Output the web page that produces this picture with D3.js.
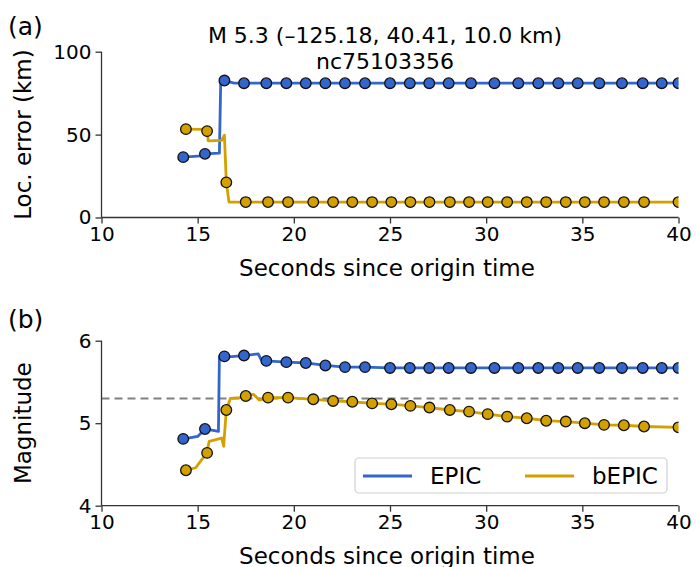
<!DOCTYPE html>
<html>
<head>
<meta charset="utf-8">
<script src="https://cdn.jsdelivr.net/npm/d3@7"></script>
<style>
  body { margin: 0; background: #fff; }
  text { font-family: "DejaVu Sans", sans-serif; fill: #000; }
</style>
</head>
<body>
<div id="chart"></div>
<script>
// times of the alert updates (s since origin)
var epicTimes  = [14.25, 15.38, 16.39, 17.41, 18.57, 19.61, 20.62, 21.64, 22.66, 23.70, 25.0, 26.03, 27.04, 28.05, 29.21, 30.43, 31.67, 32.71, 33.75, 34.76, 35.88, 37.06, 38.14, 39.13, 40.0];
var bepicTimes = [14.39, 15.49, 16.49, 17.5, 18.66, 19.70, 21.01, 22.04, 23.04, 24.07, 25.07, 26.06, 27.05, 28.11, 29.11, 30.08, 31.09, 32.11, 33.12, 34.14, 35.13, 36.13, 37.16, 38.21, 40.0];

var epicLocErr  = [36.4, 38.4, 82.6, 81, 81, 81, 81, 81, 81, 81, 81, 81, 81, 81, 81, 81, 81, 81, 81, 81, 81, 81, 81, 81, 81];
var bepicLocErr = [53.3, 52.1, 21.2, 9.3, 9.3, 9.3, 9.3, 9.3, 9.3, 9.3, 9.3, 9.3, 9.3, 9.3, 9.3, 9.3, 9.3, 9.3, 9.3, 9.3, 9.3, 9.3, 9.3, 9.3, 9.3];

var epicMag  = [4.81, 4.93, 5.81, 5.82, 5.755, 5.74, 5.73, 5.70, 5.68, 5.68, 5.67, 5.67, 5.67, 5.67, 5.67, 5.67, 5.67, 5.67, 5.67, 5.67, 5.67, 5.67, 5.67, 5.67, 5.67];
var bepicMag = [4.43, 4.64, 5.16, 5.33, 5.31, 5.31, 5.29, 5.27, 5.26, 5.24, 5.23, 5.21, 5.19, 5.16, 5.14, 5.11, 5.08, 5.06, 5.03, 5.02, 5.00, 4.98, 4.975, 4.96, 4.95];

// continuous traces (vertices, between the markers)
var epicLocLine  = [[14.25, 36.4], [15.2, 37.2], [15.38, 38.4], [16.13, 38.8], [16.2, 82.6], [16.39, 82.6], [16.9, 81], [40, 81]];
var bepicLocLine = [[14.39, 53.3], [15.25, 53.2], [15.49, 52.1], [15.55, 46.2], [16.25, 46.5], [16.39, 49.7], [16.49, 21.2], [16.63, 9.3], [40, 9.3]];
var epicMagLine  = [[14.31, 4.81], [15.0, 4.84], [15.38, 4.93], [16.08, 4.90], [16.13, 5.81], [16.42, 5.80], [17.41, 5.82], [18.15, 5.84], [18.3, 5.77], [18.57, 5.755], [19.61, 5.74], [20.62, 5.73], [21.64, 5.70], [22.66, 5.68], [23.70, 5.68], [25.0, 5.67], [40, 5.67]];
var bepicMagLine = [[14.43, 4.43], [14.9, 4.46], [15.47, 4.64], [15.6, 4.78], [16.25, 4.82], [16.35, 4.72], [16.49, 5.16], [16.7, 5.30], [17.2, 5.31], [17.5, 5.33], [17.9, 5.35], [18.2, 5.28], [18.66, 5.31], [19.70, 5.31], [21.01, 5.29], [22.04, 5.27], [23.04, 5.26], [24.07, 5.24], [25.07, 5.23], [26.06, 5.21], [27.05, 5.19], [28.11, 5.16], [29.11, 5.14], [30.08, 5.11], [31.09, 5.08], [32.11, 5.06], [33.12, 5.03], [34.14, 5.02], [35.13, 5.00], [36.13, 4.98], [37.16, 4.975], [38.21, 4.96], [40, 4.95]];

var catalogMag = 5.3;
var xTicks = [10, 15, 20, 25, 30, 35, 40];
var locTicks = [0, 50, 100];
var magTicks = [4, 5, 6];
var seriesNames = ["EPIC", "bEPIC"];

var blue = "#3366cc", gold = "#d4a000";
var W = 696, H = 567;

var svg = d3.select("#chart").append("svg")
    .attr("width", W)
    .attr("height", H);

var x = d3.scaleLinear().domain([10, 40]).range([101.5, 678.5]);

function panel(id, top, bottom, domain, ticks, ylabel, letter, letterY, lines, pts) {
  var y = d3.scaleLinear().domain(domain).range([bottom, top]);

  svg.append("clipPath").attr("id", id)
    .append("rect")
    .attr("x", x.range()[0]).attr("y", top - 20)
    .attr("width", x.range()[1] - x.range()[0]).attr("height", bottom - top + 40);

  var g = svg.append("g");

  var xAxis = svg.append("g")
      .attr("transform", "translate(0," + bottom + ")")
      .call(d3.axisBottom(x).tickValues(xTicks).tickSize(6).tickPadding(3));
  var yAxis = svg.append("g")
      .attr("transform", "translate(" + x.range()[0] + ",0)")
      .call(d3.axisLeft(y).tickValues(ticks).tickFormat(d3.format("d")).tickSize(6).tickPadding(4));
  [xAxis, yAxis].forEach(function(a) {
    a.select(".domain").attr("stroke", "#333").attr("stroke-width", 1.3);
    a.selectAll(".tick line").attr("stroke", "#333").attr("stroke-width", 1.3);
    a.selectAll(".tick text").style("font-size", "20px").attr("fill", "#000");
  });
  xAxis.select(".domain").attr("d", "M" + x.range()[0] + ",0H" + x.range()[1]);
  yAxis.select(".domain").attr("d", "M0," + bottom + "V" + top);

  var line = d3.line()
      .x(function(d) { return x(d[0]); })
      .y(function(d) { return y(d[1]); });

  var plot = g.append("g").attr("clip-path", "url(#" + id + ")");
  return { y: y, plot: plot, draw: function() {
    lines.forEach(function(l) {
      plot.append("path")
          .datum(l.data)
          .attr("fill", "none")
          .attr("stroke", l.color)
          .attr("stroke-width", 2.8)
          .attr("stroke-linejoin", "round")
          .attr("d", line);
    });
    pts.forEach(function(p) {
      plot.selectAll(null)
          .data(d3.zip(p.t, p.v))
          .enter().append("circle")
          .attr("cx", function(d) { return x(d[0]); })
          .attr("cy", function(d) { return y(d[1]); })
          .attr("r", 5.3)
          .attr("fill", p.color)
          .attr("stroke", "#111")
          .attr("stroke-width", 1.3);
    });

    svg.append("text")
        .attr("transform", "translate(31," + ((top + bottom) / 2) + ") rotate(-90)")
        .attr("text-anchor", "middle")
        .style("font-size", "23px")
        .text(ylabel);
    svg.append("text")
        .attr("x", 387).attr("y", bottom + 58)
        .attr("text-anchor", "middle")
        .style("font-size", "23px")
        .text("Seconds since origin time");
    svg.append("text")
        .attr("x", 8).attr("y", letterY)
        .style("font-size", "25px")
        .text(letter);
  }};
}

// (a) location error
var pa = panel("clipA", 51.7, 217.5, [0, 100], locTicks, "Loc. error (km)", "(a)", 35,
  [{ data: epicLocLine, color: blue }, { data: bepicLocLine, color: gold }],
  [{ t: epicTimes, v: epicLocErr, color: blue }, { t: bepicTimes, v: bepicLocErr, color: gold }]);
pa.draw();

svg.append("text")
    .attr("x", 385).attr("y", 43)
    .attr("text-anchor", "middle")
    .style("font-size", "22px")
    .text("M 5.3 (\u2013125.18, 40.41, 10.0 km)");
svg.append("text")
    .attr("x", 385).attr("y", 69)
    .attr("text-anchor", "middle")
    .style("font-size", "22px")
    .text("nc75103356");

// (b) magnitude
var pb = panel("clipB", 340.7, 505.7, [4, 6], magTicks, "Magnitude", "(b)", 328,
  [{ data: epicMagLine, color: blue }, { data: bepicMagLine, color: gold }],
  [{ t: epicTimes, v: epicMag, color: blue }, { t: bepicTimes, v: bepicMag, color: gold }]);

pb.plot.append("line")
    .attr("x1", x(10)).attr("x2", x(40))
    .attr("y1", pb.y(catalogMag)).attr("y2", pb.y(catalogMag))
    .attr("stroke", "#808080")
    .attr("stroke-width", 2)
    .attr("stroke-dasharray", "8,5");
pb.draw();

// legend
var leg = svg.append("g");
leg.append("rect")
    .attr("x", 355).attr("y", 458)
    .attr("width", 312).attr("height", 35)
    .attr("rx", 4)
    .attr("fill", "#fff").attr("fill-opacity", 0.85)
    .attr("stroke", "#d0d0d0").attr("stroke-width", 1.2);
var legX = [363, 525];
seriesNames.forEach(function(name, i) {
  leg.append("line")
      .attr("x1", legX[i]).attr("x2", legX[i] + 49)
      .attr("y1", 476).attr("y2", 476)
      .attr("stroke", i === 0 ? blue : gold)
      .attr("stroke-width", 2.8);
  leg.append("text")
      .attr("x", legX[i] + 67).attr("y", 484)
      .style("font-size", "23px")
      .text(name);
});
</script>
</body>
</html>
